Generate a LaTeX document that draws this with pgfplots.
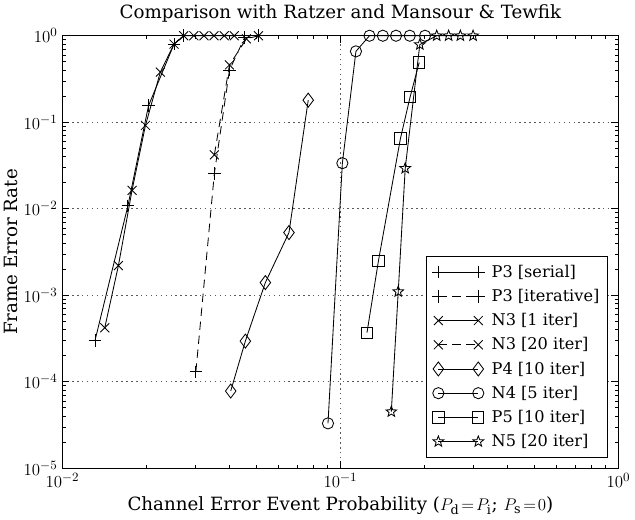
\documentclass[border=0pt]{standalone}
\usepackage{fontspec}
\setmainfont{DejaVu Serif}
\usepackage{pgfplots}
\pgfplotsset{compat=1.18}
\usetikzlibrary{plotmarks}

% open five-pointed star
\pgfdeclareplotmark{ostar}{%
  \pgfpathmoveto{\pgfpointpolar{90}{\pgfplotmarksize}}%
  \pgfpathlineto{\pgfpointpolar{126}{0.42\pgfplotmarksize}}%
  \pgfpathlineto{\pgfpointpolar{162}{\pgfplotmarksize}}%
  \pgfpathlineto{\pgfpointpolar{198}{0.42\pgfplotmarksize}}%
  \pgfpathlineto{\pgfpointpolar{234}{\pgfplotmarksize}}%
  \pgfpathlineto{\pgfpointpolar{270}{0.42\pgfplotmarksize}}%
  \pgfpathlineto{\pgfpointpolar{306}{\pgfplotmarksize}}%
  \pgfpathlineto{\pgfpointpolar{342}{0.42\pgfplotmarksize}}%
  \pgfpathlineto{\pgfpointpolar{18}{\pgfplotmarksize}}%
  \pgfpathlineto{\pgfpointpolar{54}{0.42\pgfplotmarksize}}%
  \pgfpathclose
  \pgfusepathqstroke}

\begin{document}
\begin{tikzpicture}
\begin{loglogaxis}[
    scale only axis,
    width=396pt,
    height=308pt,
    xmin=0.01, xmax=1,
    ymin=1e-5, ymax=1,
    grid=major,
    grid style={dash pattern=on 1pt off 2.5pt, black!65, line width=0.5pt},
    axis line style={line width=0.9pt},
    tick style={black, line width=0.5pt},
    major tick length=5pt,
    minor tick length=2.5pt,
    tick align=inside,
    tick label style={font=\fontsize{13}{15}\selectfont},
    label style={font=\fontsize{13}{15}\selectfont},
    ylabel style={yshift=-3pt},
    title style={font=\fontsize{13}{15}\selectfont},
    title={Comparison with Ratzer and Mansour \& Tewfik},
    xlabel={Channel Error Event Probability ($P_\mathrm{d}\!=\!P_\mathrm{i}$; $P_\mathrm{s}\!=\!0$)},
    ylabel={Frame Error Rate},
    legend style={at={(0.982,0.024)}, anchor=south east, draw=black, line width=0.9pt,
        font=\fontsize{11.5}{13.5}\selectfont, row sep=3pt, column sep=3pt, inner sep=4pt},
    legend cell align=left,
    legend image code/.code={\draw[mark repeat=1,#1] plot coordinates {(0cm,0cm) (1.0cm,0cm)};},
]
\addplot[black, line width=0.6pt, solid, mark=+, mark size=4.5pt, mark options={solid}] coordinates {
    (0.0131,3.0e-4) (0.0172,0.0108) (0.0204,0.155) (0.0252,0.80) (0.0273,1.0)
};
\addlegendentry{P3 [serial]}
\addplot[black, line width=0.6pt, dash pattern=on 6pt off 4pt, mark=+, mark size=4.5pt, mark options={solid}] coordinates {
    (0.0302,1.3e-4) (0.0352,0.0256) (0.0399,0.40) (0.0452,0.95) (0.0507,1.0)
};
\addlegendentry{P3 [iterative]}
\addplot[black, line width=0.6pt, solid, mark=x, mark size=4.5pt, mark options={solid}] coordinates {
    (0.0142,4.2e-4) (0.0159,2.2e-3) (0.0178,0.0163) (0.0199,0.092) (0.0225,0.38)
    (0.0252,0.80) (0.0273,1.0) (0.0297,1.0) (0.0323,1.0) (0.0351,1.0) (0.0382,1.0) (0.0415,1.0)
};
\addlegendentry{N3 [1 iter]}
\addplot[black, line width=0.6pt, dash pattern=on 6pt off 4pt, mark=x, mark size=4.5pt, mark options={solid}] coordinates {
    (0.0352,0.042) (0.0399,0.46) (0.0459,0.92) (0.0507,1.0)
};
\addlegendentry{N3 [20 iter]}
\addplot[black, line width=0.6pt, solid, mark=diamond, mark size=5pt, mark options={solid}] coordinates {
    (0.0403,7.8e-5) (0.0455,2.95e-4) (0.0537,1.4e-3) (0.0653,5.3e-3) (0.0766,0.18)
};
\addlegendentry{P4 [10 iter]}
\addplot[black, line width=0.6pt, solid, mark=o, mark size=4pt, mark options={solid}] coordinates {
    (0.0902,3.3e-5) (0.1016,0.0336) (0.1137,0.66) (0.1272,1.0) (0.1421,1.0)
    (0.1585,1.0) (0.1776,1.0) (0.2015,1.0)
};
\addlegendentry{N4 [5 iter]}
\addplot[black, line width=0.6pt, solid, mark=square, mark size=4pt, mark options={solid}] coordinates {
    (0.1246,3.7e-4) (0.137,2.5e-3) (0.1644,0.065) (0.178,0.195) (0.192,0.49)
};
\addlegendentry{P5 [10 iter]}
\addplot[black, line width=0.6pt, solid, mark=ostar, mark size=4pt, mark options={solid}] coordinates {
    (0.1524,4.5e-5) (0.1614,1.1e-3) (0.171,0.0293) (0.193,0.79) (0.222,1.0)
    (0.245,1.0) (0.270,1.0) (0.300,1.0)
};
\addlegendentry{N5 [20 iter]}
\end{loglogaxis}
\end{tikzpicture}
\end{document}
